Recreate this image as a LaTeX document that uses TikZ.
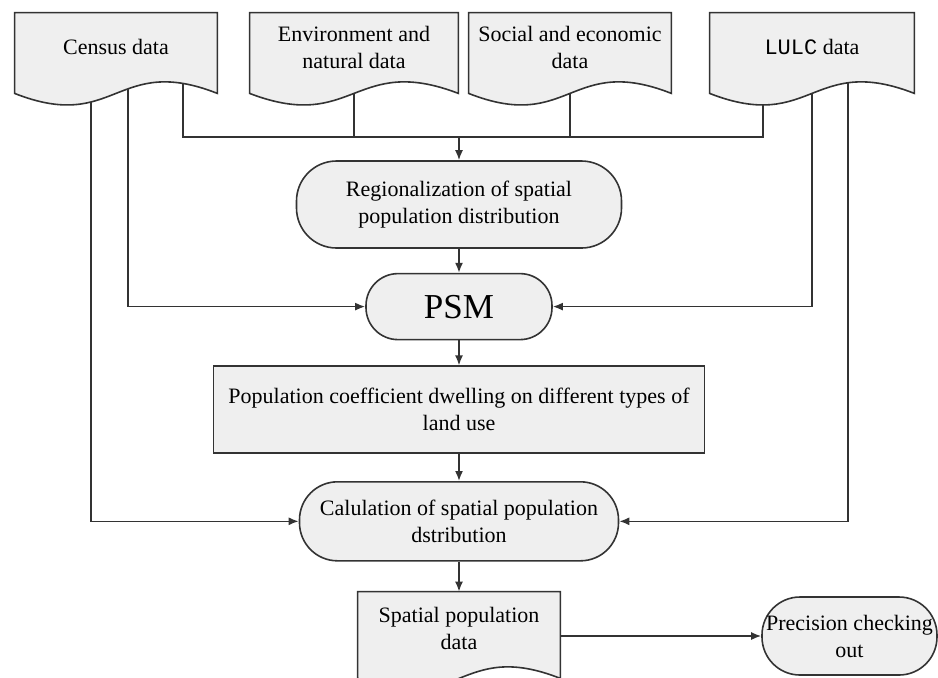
\documentclass[tikz,border=0pt]{standalone}
\usepackage{fontspec}
\setmainfont{Liberation Serif}
\setmonofont{Liberation Mono}
\usetikzlibrary{arrows.meta,positioning,calc,backgrounds}
\definecolor{ink}{HTML}{333333}
\definecolor{lt}{HTML}{EFEFEF}
\pgfdeclarelayer{docs}
\pgfsetlayers{background,docs,main}
\newcommand{\docshape}[2]{%
  \begin{pgfonlayer}{docs}
    \filldraw[docline] (#1.north west) -- (#1.north east) -- ($(#1.south east)+(0,#2)$)
      .. controls ($(#1.south)+(0,#2-40)$) and ($(#1.south)+(0,#2+40)$) .. ($(#1.south west)+(0,#2)$) -- cycle;
  \end{pgfonlayer}}
\tikzset{
  txt/.style={align=center,font=\fontsize{11}{13.5}\selectfont,inner sep=0pt},
  docbox/.style={txt,minimum height=34pt},
  term/.style={txt,draw=ink,fill=lt,line width=0.8pt},
  procbox/.style={txt,draw=ink,fill=lt,line width=0.8pt},
  docline/.style={draw=ink,fill=lt,line width=0.8pt},
  wire/.style={draw=ink,line width=0.8pt},
  ar/.style={wire,-{Latex[length=5pt,width=4pt]}},
}

\begin{document}
\begin{tikzpicture}[x=0.5pt,y=-0.5pt,node distance=12pt]
  \useasboundingbox (0,0) rectangle (938,677);
  % ---- input data
  \node[docbox,minimum width=101pt] (cen) at (116,47) {Census data};
  \node[docbox,minimum width=104pt] (env) at (354,47) {Environment and\\natural data};
  \node[docbox,minimum width=101pt] (soc) at (570,47) {Social and economic\\data};
  \node[docbox,minimum width=102pt] (lulc) at (812,47) {\texttt{LULC} data};
  \foreach \d in {cen,env,soc,lulc} \docshape{\d}{12};

  % ---- main chain
  \coordinate (bus) at (459,137);
  \node[term,minimum width=162.5pt,minimum height=43.5pt,rounded corners=20pt]
       (reg) at (459,204.5) {Regionalization of spatial\\population distribution};
  \node[term,below=12pt of reg,minimum width=93pt,minimum height=33pt,rounded corners=16pt,
        font=\fontsize{17.5}{20}\selectfont] (psm) {PSM};
  \node[procbox,below=12.5pt of psm,minimum width=245.5pt,minimum height=43.5pt]
       (coef) {Population coefficient dwelling on different types of\\land use};
  \node[term,below=13.5pt of coef,minimum width=159.5pt,minimum height=39.5pt,rounded corners=19pt]
       (calc) {Calulation of spatial population\\dstribution};
  \node[docbox,below=15pt of calc,minimum width=101pt,minimum height=36pt]
       (spd) {Spatial population\\data};
  \docshape{spd}{14}
  \node[term,minimum width=87.5pt,minimum height=39pt,rounded corners=19pt]
       (prec) at (849.5,636) {Precision checking\\out};

  % ---- connectors
  \begin{scope}[on background layer]
    \draw[wire] ($(cen.south)+(67,0)$) |- (bus) -| ($(lulc.south)+(-49,0)$);
    \draw[wire] (env.south) -- (env.south |- bus);
    \draw[wire] (soc.south) -- (soc.south |- bus);
    \draw[ar] ($(cen.south)+(12,0)$) |- (psm.west);
    \draw[ar] ($(cen.south)+(-25,0)$) |- (calc.west);
    \draw[ar] (lulc.south) |- (psm.east);
    \draw[ar] ($(lulc.south)+(36,0)$) |- (calc.east);
  \end{scope}
  \draw[ar] (bus) -- (reg);
  \draw[ar] (reg) -- (psm);
  \draw[ar] (psm) -- (coef);
  \draw[ar] (coef) -- (calc);
  \draw[ar] (calc) -- (spd);
  \draw[ar] (spd.east |- prec.west) -- (prec.west);
\end{tikzpicture}
\end{document}
